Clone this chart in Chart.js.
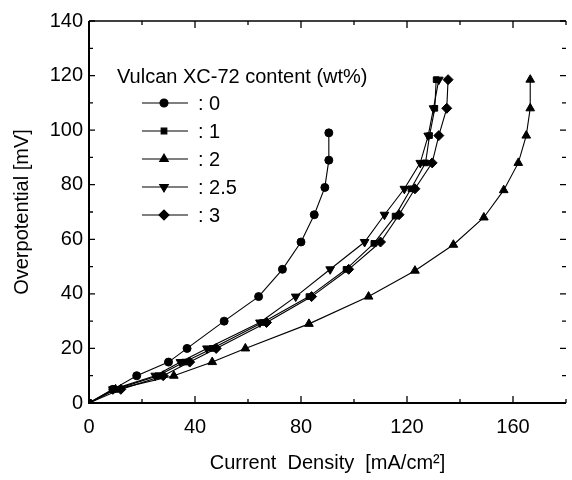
<!DOCTYPE html>
<html>
<head>
<meta charset="utf-8">
<script src="https://cdn.jsdelivr.net/npm/chart.js@4/dist/chart.umd.min.js"></script>
<style>
	html, body { margin: 0; padding: 0; background: #fff; }
	#wrap { width: 572px; height: 480px; }
</style>
</head>
<body>
<div id="wrap"><canvas id="chart" width="572" height="480"></canvas></div>
<script>
// current density [mA/cm2] and overpotential [mV]
let dens0 = [0, 9, 18, 30, 37, 51, 64, 73, 80, 85, 89, 90.5, 90.5];
let over0 = [0, 5, 10, 15, 20, 30, 39, 49, 59, 69, 79, 89, 99];

let dens1 = [0, 10, 26, 36, 46.5, 65.5, 83, 97, 107.5, 115.5, 121.5, 127, 128.5, 130.5, 131];
let over1 = [0, 5, 10, 15, 20, 29.5, 39, 49, 58.5, 68.5, 78.5, 88, 98, 108, 118.5];

let dens2 = [0, 10, 32, 46.5, 59, 83, 105.5, 123, 137.5, 149, 156.5, 162, 165, 166.5, 166.5];
let over2 = [0, 5, 10, 15, 20, 29, 39, 48.5, 58, 68, 78, 88, 98, 108, 118.5];

let dens25 = [0, 9, 25, 34.5, 44.5, 64.5, 78, 91, 104, 111.5, 119, 125, 128, 130, 132];
let over25 = [0, 5, 10, 15, 20, 29.5, 39, 49, 59, 69, 78.5, 88, 98, 108, 118.5];

let dens3 = [0, 12, 28, 38, 48, 67, 84, 98, 110, 117, 123, 129.5, 132, 135, 135.5];
let over3 = [0, 5, 10, 15, 20, 29.5, 39, 49, 59, 69, 78.5, 88, 98, 108, 118.5];

let seriesLabels = [": 0", ": 1", ": 2", ": 2.5", ": 3"];
let legendTitle = "Vulcan XC-72 content (wt%)";
let xTickVals = [0, 40, 80, 120, 160];
let yTickVals = [0, 20, 40, 60, 80, 100, 120, 140];

const FONT = "'Liberation Sans', Arial, sans-serif";

function toPoints(xs, ys){
	let pts = [];
	for(let i = 0; i < xs.length; i++){
		pts.push({x: xs[i], y: ys[i]});
	}
	return pts;
}

function makeSet(label, xs, ys, style, radius, rot){
	return {
		label: label,
		data: toPoints(xs, ys),
		borderColor: "#000",
		backgroundColor: "#000",
		borderWidth: 1.1,
		pointStyle: style,
		pointRadius: radius,
		pointRotation: rot,
		pointBorderWidth: 1,
		pointBackgroundColor: "#000",
		pointBorderColor: "#000",
		tension: 0,
		showLine: true
	};
}

// axis frame + inward tick marks (major and minor), on all four sides
let framePlugin = {
	id: "frame",
	afterDatasetsDraw(chart){
		let ctx = chart.ctx;
		let a = chart.chartArea;
		let xs = chart.scales.x, ys = chart.scales.y;
		ctx.save();
		ctx.strokeStyle = "#000";
		ctx.lineWidth = 2;
		ctx.beginPath();
		ctx.moveTo(a.left, a.top);
		ctx.lineTo(a.left, a.bottom);
		ctx.lineTo(a.right, a.bottom);
		ctx.stroke();
		ctx.lineWidth = 1.5;
		ctx.beginPath();
		ctx.moveTo(a.left, a.top);
		ctx.lineTo(a.right, a.top);
		ctx.stroke();

		ctx.lineWidth = 1.3;
		ctx.beginPath();
		for(let v = 0; v <= 180; v += 20){
			let px = xs.getPixelForValue(v);
			let len = v % 40 == 0 ? 7 : 4;
			ctx.moveTo(px, a.bottom);
			ctx.lineTo(px, a.bottom - len);
			ctx.moveTo(px, a.top);
			ctx.lineTo(px, a.top + len);
		}
		for(let v = 0; v <= 140; v += 10){
			let py = ys.getPixelForValue(v);
			let len = v % 20 == 0 ? 6 : 4;
			ctx.moveTo(a.left, py);
			ctx.lineTo(a.left + len, py);
			ctx.moveTo(a.right, py);
			ctx.lineTo(a.right - len, py);
		}
		ctx.stroke();
		ctx.restore();
	}
};

// legend drawn inside the plot, from the datasets
let legendPlugin = {
	id: "innerLegend",
	afterDraw(chart){
		let ctx = chart.ctx;
		ctx.save();
		ctx.fillStyle = "#000";
		ctx.font = "20px " + FONT;
		ctx.textBaseline = "middle";
		ctx.textAlign = "left";
		ctx.fillText(legendTitle, 117, 77);
		let y0 = 103, gap = 28;
		chart.data.datasets.forEach(function(ds, i){
			let y = y0 + i * gap;
			ctx.strokeStyle = "#000";
			ctx.lineWidth = 1.1;
			ctx.beginPath();
			ctx.moveTo(142, y);
			ctx.lineTo(188, y);
			ctx.stroke();
			Chart.helpers.drawPoint(ctx, {
				pointStyle: ds.pointStyle,
				radius: ds.pointRadius,
				rotation: ds.pointRotation,
				borderWidth: 1
			}, 164, y);
			ctx.fillStyle = "#000";
			ctx.fillText(ds.label, 198, y + 1);
		});
		ctx.restore();
	}
};

let ctx = document.getElementById("chart").getContext("2d");
let chart = new Chart(ctx, {
	type: "scatter",
	data: {
		datasets: [
			makeSet(seriesLabels[0], dens0, over0, "circle", 4, 0),
			makeSet(seriesLabels[1], dens1, over1, "rect", 4, 0),
			makeSet(seriesLabels[2], dens2, over2, "triangle", 5, 0),
			makeSet(seriesLabels[3], dens25, over25, "triangle", 5, 180),
			makeSet(seriesLabels[4], dens3, over3, "rectRot", 5, 0)
		]
	},
	options: {
		responsive: false,
		animation: false,
		layout: { padding: { top: 21, right: 0, left: 0, bottom: 0 } },
		plugins: {
			legend: { display: false },
			tooltip: { enabled: false }
		},
		scales: {
			x: {
				type: "linear",
				min: 0,
				max: 180,
				grid: { display: false, drawTicks: false },
				border: { display: false },
				afterBuildTicks: function(s){ s.ticks = xTickVals.map(v => ({value: v})); },
				afterFit: function(s){ s.height = 77; },
				ticks: { color: "#000", padding: 12, maxRotation: 0, font: { family: FONT, size: 20 } },
				title: {
					display: true,
					text: "Current  Density  [mA/cm\u00B2]",
					color: "#000",
					font: { family: FONT, size: 20 },
					padding: { bottom: 5 }
				}
			},
			y: {
				type: "linear",
				min: 0,
				max: 140,
				grid: { display: false, drawTicks: false },
				border: { display: false },
				afterBuildTicks: function(s){ s.ticks = yTickVals.map(v => ({value: v})); },
				afterFit: function(s){ s.width = 89; },
				ticks: { color: "#000", padding: 6, font: { family: FONT, size: 20 } },
				title: {
					display: true,
					text: "Overpotential [mV]",
					color: "#000",
					font: { family: FONT, size: 20 },
					padding: { top: 10 }
				}
			}
		}
	},
	plugins: [framePlugin, legendPlugin]
});
</script>
</body>
</html>
